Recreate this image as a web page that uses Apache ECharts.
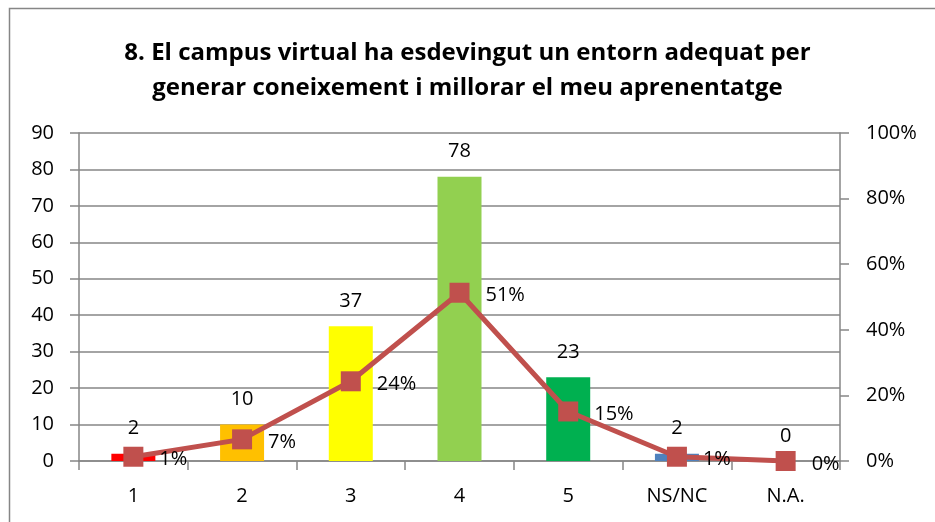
<!DOCTYPE html>
<html>
<head>
<meta charset="utf-8">
<script src="https://cdn.jsdelivr.net/npm/echarts@6/dist/echarts.min.js"></script>
<style>
  html, body { margin: 0; padding: 0; background: #fff; }
</style>
</head>
<body>
<div id="main" style="width: 935px;height:522px;"></div>
<script>
// categories and values
var categories = ['1', '2', '3', '4', '5', 'NS/NC', 'N.A.'];
var counts = [2, 10, 37, 78, 23, 2, 0];
var shares = [1.3, 6.6, 24.3, 51.3, 15.1, 1.3, 0]; // percent of answers
var barColors = ['#FF0000', '#FFC000', '#FFFF00', '#92D050', '#00B050', '#4F81BD', '#4F81BD'];
var title = '8. El campus virtual ha esdevingut un entorn adequat per\ngenerar coneixement i millorar el meu aprenentatge';

var font = 'Open Sans';
var gray = '#868686';

var myChart = echarts.init(document.getElementById('main'));

var option = {
  animation: false,
  backgroundColor: '#fff',
  textStyle: { fontFamily: font },
  title: {
    text: title,
    left: 'center',
    top: 31,
    textStyle: {
      fontFamily: font,
      fontSize: 24,
      fontWeight: 'bold',
      color: '#000',
      lineHeight: 35
    }
  },
  graphic: [{
    type: 'rect',
    shape: { x: 9.5, y: 8.5, width: 940, height: 530 },
    style: { fill: 'none', stroke: gray, lineWidth: 1.5 },
    silent: true
  }],
  grid: { left: 79, right: 95, top: 133, bottom: 61 },
  xAxis: {
    type: 'category',
    data: categories,
    axisLine: { lineStyle: { color: gray, width: 1.5 } },
    axisTick: { show: true, alignWithLabel: false, length: 9, lineStyle: { color: gray, width: 1.5 } },
    axisLabel: { color: '#000', fontSize: 20, margin: 25 }
  },
  yAxis: [{
    type: 'value',
    min: 0,
    max: 90,
    interval: 10,
    axisLine: { show: true, lineStyle: { color: gray, width: 1.5 } },
    axisTick: { show: true, length: 9, lineStyle: { color: gray, width: 1.5 } },
    axisLabel: { color: '#000', fontSize: 20, margin: 25 },
    splitLine: { lineStyle: { color: gray, width: 1.5 } }
  }, {
    type: 'value',
    min: 0,
    max: 100,
    interval: 20,
    position: 'right',
    axisLine: { show: true, lineStyle: { color: gray, width: 1.5 } },
    axisTick: { show: true, length: 9, lineStyle: { color: gray, width: 1.5 } },
    axisLabel: { color: '#000', fontSize: 20, margin: 26, formatter: '{value}%' },
    splitLine: { show: false }
  }],
  series: [{
    name: 'Respostes',
    type: 'bar',
    barWidth: 44,
    data: counts.map(function (v, i) {
      return { value: v, itemStyle: { color: barColors[i] } };
    }),
    label: {
      show: true,
      position: 'top',
      distance: 15,
      color: '#000',
      fontSize: 20
    }
  }, {
    name: 'Percentatge',
    type: 'line',
    yAxisIndex: 1,
    data: shares,
    z: 5,
    symbol: 'rect',
    symbolSize: 20,
    lineStyle: { color: '#C0504D', width: 5 },
    itemStyle: { color: '#C0504D' },
    label: {
      show: true,
      position: 'right',
      distance: 16,
      offset: [0, 3],
      color: '#000',
      fontSize: 20,
      formatter: function (p) { return Math.round(p.value) + '%'; }
    }
  }]
};

myChart.setOption(option);
window.addEventListener('resize', function () {
  myChart.resize();
});
</script>
</body>
</html>
